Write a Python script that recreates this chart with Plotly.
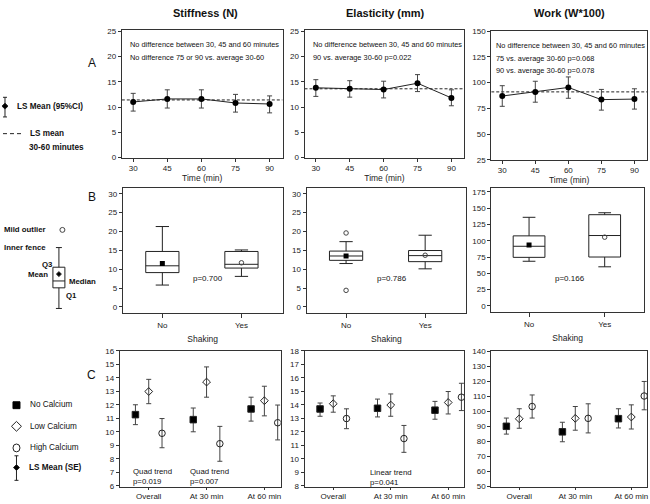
import plotly.graph_objects as go

W, H = 650, 504

# ---------------- DATA ----------------
times = [30, 45, 60, 75, 90]
stiff_a_mean = [11.0, 11.6, 11.6, 10.8, 10.6]
stiff_a_lo = [9.2, 9.8, 9.8, 9.0, 8.85]
stiff_a_hi = [12.7, 13.4, 13.4, 12.5, 12.2]
stiff_a_ref = 11.4
elas_a_mean = [13.8, 13.6, 13.45, 14.7, 11.8]
elas_a_lo = [12.1, 11.95, 11.8, 13.05, 10.25]
elas_a_hi = [15.4, 15.2, 15.1, 16.4, 13.4]
elas_a_ref = 13.6
work_a_mean = [87, 91, 95.3, 83.5, 84]
work_a_lo = [77, 81, 84.8, 73.3, 74.3]
work_a_hi = [97, 101.3, 105.5, 93.4, 94]
work_a_ref = 91

shaking = ["No", "Yes"]
stiff_b_low = [5.8, 8.1]
stiff_b_q1 = [9.1, 10.3]
stiff_b_med = [10.9, 11.3]
stiff_b_q3 = [14.7, 14.7]
stiff_b_high = [21.3, 15.1]
stiff_b_mean = [11.5, 11.7]
stiff_b_out_x = []
stiff_b_out_y = []
elas_b_low = [11.5, 10.1]
elas_b_q1 = [12.35, 12.0]
elas_b_med = [13.5, 13.6]
elas_b_q3 = [14.8, 14.95]
elas_b_high = [17.3, 19.0]
elas_b_mean = [13.5, 13.7]
elas_b_out_x = ["No", "No"]
elas_b_out_y = [19.6, 4.4]
work_b_low = [68.5, 60]
work_b_q1 = [74.5, 75]
work_b_med = [91.5, 108]
work_b_q3 = [107.5, 140]
work_b_high = [136, 143]
work_b_mean = [93.5, 105.5]
work_b_out_x = []
work_b_out_y = []
p_box = ["p=0.700", "p=0.786", "p=0.166"]

periods = ["Overall", "At 30 min", "At 60 min"]
groups = ["No Calcium", "Low Calcium", "High Calcium"]
stiff_c_mean = [[11.27, 10.9, 11.69], [12.98, 13.68, 12.3], [9.89, 9.12, 10.67]]
stiff_c_lo = [[10.53, 10.0, 10.79], [12.08, 12.56, 11.18], [8.82, 7.82, 9.4]]
stiff_c_hi = [[12.0, 11.76, 12.56], [13.88, 14.8, 13.37], [10.98, 10.4, 11.98]]
elas_c_mean = [[13.69, 13.74, 13.6], [14.08, 13.98, 14.17], [12.98, 11.5, 14.56]]
elas_c_lo = [[13.15, 13.1, 12.93], [13.45, 13.15, 13.32], [12.23, 10.48, 13.57]]
elas_c_hi = [[14.13, 14.42, 14.25], [14.66, 14.8, 14.98], [13.7, 12.47, 15.59]]
work_c_mean = [[89.9, 86.2, 95.0], [94.9, 95.2, 96.1], [103.1, 95.2, 110.1]]
work_c_lo = [[84.7, 79.6, 88.8], [88.6, 87.3, 88.1], [95.4, 85.5, 100.9]]
work_c_hi = [[95.4, 92.6, 101.6], [101.6, 103.1, 104.2], [110.8, 104.9, 119.8]]

# ---------------- LAYOUT HELPERS ----------------
FONT = "Liberation Sans, Arial, sans-serif"
AX = "#333333"
TICK = 8


def px(x):
    return x / W


def py(y):
    return 1 - y / H


fig = go.Figure()
layout = dict(
    width=W, height=H, margin=dict(l=0, r=0, t=0, b=0),
    paper_bgcolor="white", plot_bgcolor="white", showlegend=False,
    font=dict(family=FONT, size=TICK, color="#222"),
)

panels = {
    1: ((122, 283), (26, 157)),
    2: ((305, 465), (26, 157)),
    3: ((492, 648), (27, 159)),
    4: ((123, 283), (187, 315)),
    5: ((307, 467), (187, 315)),
    6: ((492, 645), (187, 314)),
    7: ((120, 281), (353, 492)),
    8: ((305, 465), (353, 492)),
    9: ((492, 648), (353, 492)),
}

axis_common = dict(showline=True, linecolor=AX, linewidth=1, mirror=True,
                   ticks="outside", ticklen=3, tickcolor=AX, tickwidth=1,
                   showgrid=False, zeroline=False,
                   tickfont=dict(family=FONT, size=TICK, color="#222"))

for i, ((x0, x1), (y0, y1)) in panels.items():
    s = "" if i == 1 else str(i)
    layout["xaxis" + s] = dict(domain=[px(x0), px(x1)], anchor="y" + s, **axis_common)
    layout["yaxis" + s] = dict(domain=[py(y1), py(y0)], anchor="x" + s, **axis_common)

# row A axes
a_ranges = [(-0.1, 25.3, 5), (-0.1, 25.3, 5), (24.8, 150.5, 25)]
for k, (lo, hi, dt) in zip([1, 2, 3], a_ranges):
    s = "" if k == 1 else str(k)
    layout["xaxis" + s].update(range=[25, 95.7], tickvals=times, ticklabelstandoff=-1,
                               title=dict(text="Time (min)", font=dict(size=8.5), standoff=0))
    layout["yaxis" + s].update(range=[lo, hi], dtick=dt, tick0=0 if k < 3 else 25)

# row B axes
b_ranges = [(-1.7, 31.6, 5), (-1.7, 31.6, 5), (-10, 181.5, 25)]
for k, (lo, hi, dt) in zip([4, 5, 6], b_ranges):
    layout["xaxis%d" % k].update(type="category", range=[-0.5, 1.52],
                                 categoryorder="array", categoryarray=shaking,
                                 ticklen=4,
                                 title=dict(text="Shaking", font=dict(size=8.5), standoff=7))
    layout["yaxis%d" % k].update(range=[lo, hi], dtick=dt, tick0=0)

# row C axes
c_ranges = [(5.9, 16.0, 1, 6), (7.9, 18.0, 1, 8), (49.3, 140.3, 10, 50)]
for k, (lo, hi, dt, t0) in zip([7, 8, 9], c_ranges):
    layout["xaxis%d" % k].update(range=[-0.5, 2.28], tickvals=[0, 1, 2], ticktext=periods,
                                 ticklen=2, ticklabelstandoff=-1)
    layout["yaxis%d" % k].update(range=[lo, hi], dtick=dt, tick0=t0)

ERR = dict(type="data", symmetric=False, width=2.5, thickness=1, color="#444")

# ---------------- ROW A ----------------
for k, (m, lo, hi, ref) in zip(
        [1, 2, 3],
        [(stiff_a_mean, stiff_a_lo, stiff_a_hi, stiff_a_ref),
         (elas_a_mean, elas_a_lo, elas_a_hi, elas_a_ref),
         (work_a_mean, work_a_lo, work_a_hi, work_a_ref)]):
    s = "" if k == 1 else str(k)
    fig.add_trace(go.Scatter(
        x=[25, 95.7], y=[ref, ref], mode="lines", xaxis="x" + s, yaxis="y" + s,
        line=dict(color="#222", width=1, dash="3px,2px")))
    fig.add_trace(go.Scatter(
        x=times, y=m, mode="lines+markers", xaxis="x" + s, yaxis="y" + s,
        line=dict(color="#222", width=1), marker=dict(symbol="circle", size=6, color="black"),
        error_y=dict(array=[h - v for h, v in zip(hi, m)], arrayminus=[v - l for v, l in zip(m, lo)], **ERR)))

# ---------------- ROW B ----------------
b_sets = [
    (stiff_b_low, stiff_b_q1, stiff_b_med, stiff_b_q3, stiff_b_high, stiff_b_mean, stiff_b_out_x, stiff_b_out_y),
    (elas_b_low, elas_b_q1, elas_b_med, elas_b_q3, elas_b_high, elas_b_mean, elas_b_out_x, elas_b_out_y),
    (work_b_low, work_b_q1, work_b_med, work_b_q3, work_b_high, work_b_mean, work_b_out_x, work_b_out_y),
]
for k, (lw, q1, md, q3, hw, mn, ox, oy) in zip([4, 5, 6], b_sets):
    for j, cat in enumerate(shaking):
        fig.add_trace(go.Box(
            x=[cat], q1=[q1[j]], median=[md[j]], q3=[q3[j]], lowerfence=[lw[j]], upperfence=[hw[j]],
            xaxis="x%d" % k, yaxis="y%d" % k, width=0.42, whiskerwidth=0.4,
            fillcolor="white", line=dict(color="#222", width=1), boxpoints=False))
    fig.add_trace(go.Scatter(
        x=[shaking[0]], y=[mn[0]], mode="markers", xaxis="x%d" % k, yaxis="y%d" % k,
        marker=dict(symbol="square", size=5, color="black")))
    fig.add_trace(go.Scatter(
        x=[shaking[1]], y=[mn[1]], mode="markers", xaxis="x%d" % k, yaxis="y%d" % k,
        marker=dict(symbol="circle-open", size=4.5, color="#444", line=dict(width=1))))
    if ox:
        fig.add_trace(go.Scatter(
            x=ox, y=oy, mode="markers", xaxis="x%d" % k, yaxis="y%d" % k,
            marker=dict(symbol="circle-open", size=4.5, color="#444", line=dict(width=1))))

# ---------------- ROW C ----------------
offsets = [-0.23, 0.0, 0.23]
symbols = [("square", 6.5, "black"), ("diamond-open", 6, "#222"), ("circle-open", 6.5, "#222")]
c_sets = [(stiff_c_mean, stiff_c_lo, stiff_c_hi), (elas_c_mean, elas_c_lo, elas_c_hi),
          (work_c_mean, work_c_lo, work_c_hi)]
for k, (M, L, Hh) in zip([7, 8, 9], c_sets):
    for g in range(3):
        sym, sz, col = symbols[g]
        fig.add_trace(go.Scatter(
            x=[i + offsets[g] for i in range(3)], y=M[g], mode="markers",
            xaxis="x%d" % k, yaxis="y%d" % k,
            marker=dict(symbol=sym, size=sz, color=col, line=dict(width=1, color="#222")),
            error_y=dict(array=[h - v for h, v in zip(Hh[g], M[g])],
                         arrayminus=[v - l for v, l in zip(M[g], L[g])], **ERR)))

# ---------------- ANNOTATIONS ----------------
ann = []


def text(x, y, t, size=9, bold=False, xanchor="left", yanchor="middle"):
    if bold:
        t = "<b>%s</b>" % t
    d = dict(x=px(x), y=py(y), xref="paper", yref="paper", text=t, showarrow=False,
             xanchor=xanchor, yanchor=yanchor, font=dict(family=FONT, size=size, color="#111"))
    ann.append(d)


text(206, 9, "Stiffness (N)", 11, True, "center")
text(386, 9, "Elasticity (mm)", 11, True, "center")
text(570, 9, "Work (W*100)", 11, True, "center")
text(92, 60, "A", 12, False, "center")
text(92, 197, "B", 12, False, "center")
text(92, 378, "C", 12, False, "center")

IN = 7.4
text(128, 41, "No difference between 30, 45 and 60 minutes", IN)
text(128, 54, "No difference 75 or 90 vs. average 30-60", IN)
text(311, 41, "No difference between 30, 45 and 60 minutes", IN)
text(311, 54, "90 vs. average 30-60 p=0.022", IN)
text(495, 42, "No difference between 30, 45 and 60 minutes", IN)
text(495, 55, "75 vs. average 30-60 p=0.068", IN)
text(495, 68, "90 vs. average 30-60 p=0.078", IN)

text(191, 279, p_box[0], 8)
text(376, 279, p_box[1], 8)
text(554, 279, p_box[2], 8)

text(131, 476, "Quad trend", 7.8)
text(131, 486, "p=0.019", 7.8)
text(188, 476, "Quad trend", 7.8)
text(188, 486, "p=0.007", 7.8)
text(369, 477, "Linear trend", 7.8)
text(369, 487, "p=0.041", 7.8)

# legends on left
LG = 8.2
text(15, 104, "LS Mean (95%CI)", LG, True)
text(28, 132, "LS mean", LG, True)
text(27, 146, "30-60 minutes", LG, True)
text(2, 230, "Mild outlier", 7.8, True)
text(2, 248, "Inner fence", 7.8, True)
text(40, 265, "Q3", 7.8, True)
text(50, 275, "Mean", 7.8, True, "right")
text(67, 283, "Median", 7.8, True)
text(64, 297, "Q1", 7.8, True)
text(28, 408, "No Calcium", 8.2)
text(28, 430, "Low Calcium", 8.2)
text(28, 452, "High Calcium", 8.2)
text(27, 472, "LS Mean (SE)", 8.2, True)

shapes = []


def line(x0, y0, x1, y1, dash=None, w=1, color="#222"):
    d = dict(type="line", xref="paper", yref="paper", x0=px(x0), y0=py(y0), x1=px(x1), y1=py(y1),
             line=dict(color=color, width=w))
    if dash:
        d["line"]["dash"] = dash
    shapes.append(d)


def diamond(cx, cy, r, fill):
    p = "M %f,%f L %f,%f L %f,%f L %f,%f Z" % (
        px(cx), py(cy - r), px(cx + r), py(cy), px(cx), py(cy + r), px(cx - r), py(cy))
    shapes.append(dict(type="path", xref="paper", yref="paper", path=p,
                       fillcolor=fill, line=dict(color="#222", width=1)))


# LS Mean (95%CI) glyph
line(5, 95, 5, 115)
line(3, 95, 7, 95)
line(3, 115, 7, 115)
diamond(5, 104, 3, "black")
# dashed glyph
line(3, 132, 22, 132, dash="4px,3px")
# boxplot glyph
shapes.append(dict(type="circle", xref="paper", yref="paper", x0=px(60), y0=py(232.5),
                   x1=px(65), y1=py(227.5), line=dict(color="#444", width=1)))
line(59, 248, 59, 268)
line(56, 248, 62, 248)
shapes.append(dict(type="rect", xref="paper", yref="paper", x0=px(53), y0=py(289), x1=px(65), y1=py(268),
                   line=dict(color="#222", width=1)))
line(53, 282, 65, 282)
diamond(59, 275, 2.5, "black")
line(59, 289, 59, 310)
line(56, 310, 62, 310)
# row C legend glyphs
shapes.append(dict(type="rect", xref="paper", yref="paper", x0=px(13), y0=py(412), x1=px(20), y1=py(405),
                   fillcolor="black", line=dict(color="black", width=1)))
diamond(16.5, 430, 5, "white")
shapes.append(dict(type="circle", xref="paper", yref="paper", x0=px(13), y0=py(456), x1=px(20), y1=py(448),
                   line=dict(color="#222", width=1)))
line(16.5, 460, 16.5, 485)
line(14.5, 460, 18.5, 460)
line(14.5, 485, 18.5, 485)
diamond(16.5, 472, 3, "black")

layout["annotations"] = ann
layout["shapes"] = shapes
fig.update_layout(**layout)
fig.write_html("out.html", config={"displayModeBar": False},
               post_script="document.body.style.margin='0';document.body.style.overflow='hidden';")
